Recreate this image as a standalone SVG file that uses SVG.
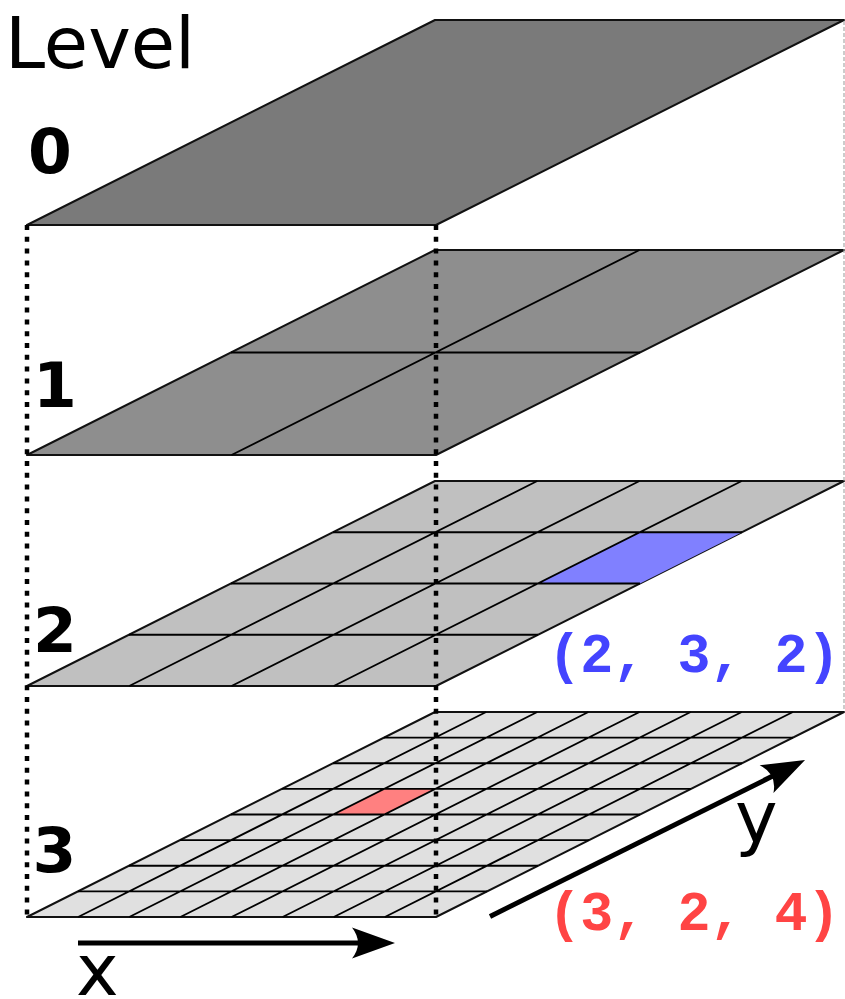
<svg xmlns="http://www.w3.org/2000/svg" width="845" height="999" viewBox="0 0 845 999">
  <style>
    .plane { stroke: #111; stroke-width: 2; stroke-linejoin: round; }
    .grid { fill: none; stroke: #000; stroke-width: 1.8; }
    .l0 { fill: #7a7a7a; }
    .l1 { fill: #8e8e8e; }
    .l2 { fill: #c0c0c0; }
    .l3 { fill: #e0e0e0; }
    .dotted { stroke: #000; stroke-width: 4.5; stroke-dasharray: 5 6.8; fill: none; }
    .guide { stroke: #999; stroke-width: 1; stroke-dasharray: 4 2; fill: none; }
    .axis { stroke: #000; stroke-width: 5; fill: none; }
    .lbl { font-family: "DejaVu Sans", "Liberation Sans", sans-serif; font-size: 72px; fill: #000; }
    .num { font-family: "DejaVu Sans", "Liberation Sans", sans-serif; font-weight: bold; font-size: 63px; fill: #000; text-anchor: middle; }
    .coord { font-family: "Liberation Mono", "DejaVu Sans Mono", monospace; font-weight: bold; font-size: 55px; }
  </style>
  <defs>
    <marker id="arrow" markerUnits="userSpaceOnUse" markerWidth="44" markerHeight="32" viewBox="0 -16 44 32" refX="8" refY="0" orient="auto" overflow="visible">
      <path d="M43,0 L0,-15.5 Q12,0 0,15.5 Z" fill="#000"/>
    </marker>
  </defs>
  <rect width="845" height="999" fill="#fff"/>

  <g id="level0">
    <path class="plane l0" d="M27,225 L436,225 L844,20 L435,20 Z"/>
  </g>

  <g id="level1">
    <path class="plane l1" d="M27,455 L436,455 L844,250 L435,250 Z"/>
    <path class="grid" d="M231,352.5 L640,352.5 M231.5,455 L639.5,250"/>
  </g>

  <g id="level2">
    <path class="plane l2" d="M27,686 L436,686 L844,481 L435,481 Z"/>
    <path id="cell-2-3-2" d="M537.75,583.5 L640,583.5 L742,532.25 L639.75,532.25 Z" fill="#8080ff"/>
    <path class="grid" d="M129,634.75 L538,634.75 M231,583.5 L640,583.5 M333,532.25 L742,532.25 M129.25,686 L537.25,481 M231.5,686 L639.5,481 M333.75,686 L741.75,481"/>
  </g>

  <g id="level3">
    <path class="plane l3" d="M27,917 L436,917 L844,712 L435,712 Z"/>
    <path id="cell-3-2-4" d="M333.25,814.5 L384.375,814.5 L435.375,788.875 L384.25,788.875 Z" fill="#ff8080"/>
    <path class="grid" d="M78,891.375 L487,891.375 M129,865.75 L538,865.75 M180,840.125 L589,840.125 M231,814.5 L640,814.5 M282,788.875 L691,788.875 M333,763.25 L742,763.25 M384,737.625 L793,737.625 M78.125,917 L486.125,712 M129.25,917 L537.25,712 M180.375,917 L588.375,712 M231.5,917 L639.5,712 M282.625,917 L690.625,712 M333.75,917 L741.75,712 M384.875,917 L792.875,712"/>
  </g>

  <g id="connectors">
    <line class="dotted" x1="27" y1="225" x2="27" y2="917"/>
    <line class="dotted" x1="436" y1="225" x2="436" y2="917"/>
    <line class="guide" x1="844" y1="21" x2="844" y2="711"/>
    <line class="axis" x1="78" y1="943" x2="360" y2="943" marker-end="url(#arrow)"/>
    <line class="axis" x1="490" y1="916.5" x2="773.7" y2="775.6" marker-end="url(#arrow)"/>
  </g>

  <g id="labels">
    <text class="lbl" x="5" y="68">Level</text>
    <text class="num" x="50" y="173">0</text>
    <text class="num" x="55" y="407">1</text>
    <text class="num" x="55" y="652">2</text>
    <text class="num" x="54.5" y="872">3</text>
    <text class="lbl" x="76" y="995">x</text>
    <text class="lbl" x="735" y="842">y</text>
    <text class="coord" x="548" y="672" fill="#4444ff" textLength="292" lengthAdjust="spacing">(2, 3, 2)</text>
    <text class="coord" x="548" y="930" fill="#ff4444" textLength="292" lengthAdjust="spacing">(3, 2, 4)</text>
  </g>
</svg>
